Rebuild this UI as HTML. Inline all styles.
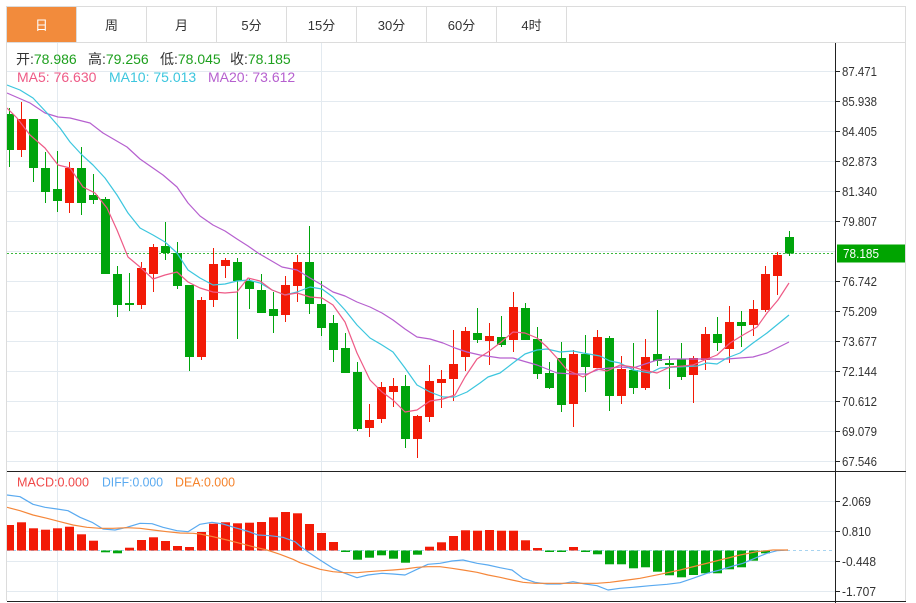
<!DOCTYPE html>
<html><head><meta charset="utf-8"><style>
html,body{margin:0;padding:0;background:#fff;}
svg{display:block;font-family:"Liberation Sans","Noto Sans CJK SC",sans-serif;}
</style></head><body>
<svg width="916" height="603" viewBox="0 0 916 603" xmlns="http://www.w3.org/2000/svg">
<defs>
<clipPath id="cm"><rect x="7" y="43" width="828" height="428"/></clipPath>
<clipPath id="cd"><rect x="7" y="472" width="828" height="129"/></clipPath>
</defs>
<rect x="0" y="0" width="916" height="603" fill="#fff"/>
<!-- tab bar -->
<rect x="7" y="7" width="69.5" height="35.5" fill="#f28b3c"/>
<g stroke="#dcdcdc" stroke-width="1">
<line x1="6" y1="6.5" x2="906" y2="6.5"/>
<line x1="6" y1="42.5" x2="906" y2="42.5"/>
<line x1="76.5" y1="6" x2="76.5" y2="42"/>
<line x1="146.5" y1="6" x2="146.5" y2="42"/>
<line x1="216.5" y1="6" x2="216.5" y2="42"/>
<line x1="286.5" y1="6" x2="286.5" y2="42"/>
<line x1="356.5" y1="6" x2="356.5" y2="42"/>
<line x1="426.5" y1="6" x2="426.5" y2="42"/>
<line x1="496.5" y1="6" x2="496.5" y2="42"/>
<line x1="566.5" y1="6" x2="566.5" y2="42"/>
<line x1="6.5" y1="6" x2="6.5" y2="601"/>
<line x1="905.5" y1="6" x2="905.5" y2="601"/>
</g>
<g font-size="13" text-anchor="middle" fill="#333">
<text x="41.5" y="30" fill="#fff">日</text>
<text x="111.5" y="30">周</text>
<text x="181.5" y="30">月</text>
<text x="251.5" y="30">5分</text>
<text x="321.5" y="30">15分</text>
<text x="391.5" y="30">30分</text>
<text x="461.5" y="30">60分</text>
<text x="531.5" y="30">4时</text>
</g>
<!-- grid main -->
<g stroke="#e3eaf0" stroke-width="1">
<line x1="7" y1="71.5" x2="835" y2="71.5"/>
<line x1="7" y1="101.5" x2="835" y2="101.5"/>
<line x1="7" y1="131.5" x2="835" y2="131.5"/>
<line x1="7" y1="161.5" x2="835" y2="161.5"/>
<line x1="7" y1="191.5" x2="835" y2="191.5"/>
<line x1="7" y1="221.5" x2="835" y2="221.5"/>
<line x1="7" y1="251.5" x2="835" y2="251.5"/>
<line x1="7" y1="281.5" x2="835" y2="281.5"/>
<line x1="7" y1="311.5" x2="835" y2="311.5"/>
<line x1="7" y1="341.5" x2="835" y2="341.5"/>
<line x1="7" y1="371.5" x2="835" y2="371.5"/>
<line x1="7" y1="401.5" x2="835" y2="401.5"/>
<line x1="7" y1="431.5" x2="835" y2="431.5"/>
<line x1="7" y1="461.5" x2="835" y2="461.5"/>
<line x1="57.5" y1="43" x2="57.5" y2="471"/>
<line x1="321.5" y1="43" x2="321.5" y2="471"/>
<line x1="7" y1="501.5" x2="835" y2="501.5"/>
<line x1="7" y1="531.5" x2="835" y2="531.5"/>
<line x1="7" y1="561.5" x2="835" y2="561.5"/>
<line x1="7" y1="591.5" x2="835" y2="591.5"/>
<line x1="57.5" y1="472" x2="57.5" y2="601"/>
<line x1="321.5" y1="472" x2="321.5" y2="601"/>
</g>
<!-- header texts -->
<g font-size="14">
<text x="16" y="64" fill="#333">开:<tspan fill="#1ea01e">78.986</tspan></text>
<text x="88" y="64" fill="#333">高:<tspan fill="#1ea01e">79.256</tspan></text>
<text x="160" y="64" fill="#333">低:<tspan fill="#1ea01e">78.045</tspan></text>
<text x="230" y="64" fill="#333">收:<tspan fill="#1ea01e">78.185</tspan></text>
<text x="17" y="82" fill="#ee5a86">MA5: 76.630</text>
<text x="109" y="82" fill="#3cc6de">MA10: 75.013</text>
<text x="208" y="82" fill="#b660cf">MA20: 73.612</text>
</g>
<!-- current price dotted -->
<line x1="7" y1="253.5" x2="835" y2="253.5" stroke="#3cb83c" stroke-width="1" stroke-dasharray="2,2"/>
<!-- candles -->
<g clip-path="url(#cm)">
<g fill="#00a40c" stroke="#00a40c">
<line x1="9.5" y1="108" x2="9.5" y2="167"/><rect x="5" y="114" width="9" height="36" stroke="none"/>
<line x1="33.5" y1="119" x2="33.5" y2="182"/><rect x="29" y="119" width="9" height="49" stroke="none"/>
<line x1="45.5" y1="152" x2="45.5" y2="203"/><rect x="41" y="168" width="9" height="24" stroke="none"/>
<line x1="57.5" y1="151" x2="57.5" y2="212"/><rect x="53" y="189" width="9" height="12" stroke="none"/>
<line x1="81.5" y1="147" x2="81.5" y2="215"/><rect x="77" y="168" width="9" height="35" stroke="none"/>
<line x1="93.5" y1="174" x2="93.5" y2="204"/><rect x="89" y="195" width="9" height="5" stroke="none"/>
<line x1="105.5" y1="197" x2="105.5" y2="274"/><rect x="101" y="199" width="9" height="75" stroke="none"/>
<line x1="117.5" y1="266" x2="117.5" y2="317"/><rect x="113" y="274" width="9" height="31" stroke="none"/>
<line x1="129.5" y1="273" x2="129.5" y2="311"/><rect x="125" y="303" width="9" height="2" stroke="none"/>
<line x1="165.5" y1="222" x2="165.5" y2="260"/><rect x="161" y="246" width="9" height="7" stroke="none"/>
<line x1="177.5" y1="242" x2="177.5" y2="289"/><rect x="173" y="253" width="9" height="33" stroke="none"/>
<line x1="189.5" y1="285" x2="189.5" y2="371"/><rect x="185" y="285" width="9" height="72" stroke="none"/>
<line x1="237.5" y1="258" x2="237.5" y2="339"/><rect x="233" y="262" width="9" height="19" stroke="none"/>
<line x1="249.5" y1="278" x2="249.5" y2="309"/><rect x="245" y="281" width="9" height="8" stroke="none"/>
<line x1="261.5" y1="274" x2="261.5" y2="313"/><rect x="257" y="290" width="9" height="23" stroke="none"/>
<line x1="273.5" y1="292" x2="273.5" y2="333"/><rect x="269" y="309" width="9" height="7" stroke="none"/>
<line x1="309.5" y1="226" x2="309.5" y2="314"/><rect x="305" y="262" width="9" height="42" stroke="none"/>
<line x1="321.5" y1="281" x2="321.5" y2="336"/><rect x="317" y="304" width="9" height="24" stroke="none"/>
<line x1="333.5" y1="315" x2="333.5" y2="362"/><rect x="329" y="323" width="9" height="27" stroke="none"/>
<line x1="345.5" y1="333" x2="345.5" y2="373"/><rect x="341" y="348" width="9" height="25" stroke="none"/>
<line x1="357.5" y1="362" x2="357.5" y2="431"/><rect x="353" y="372" width="9" height="57" stroke="none"/>
<line x1="405.5" y1="375" x2="405.5" y2="448"/><rect x="401" y="386" width="9" height="53" stroke="none"/>
<line x1="477.5" y1="308" x2="477.5" y2="343"/><rect x="473" y="333" width="9" height="7" stroke="none"/>
<line x1="501.5" y1="316" x2="501.5" y2="347"/><rect x="497" y="337" width="9" height="8" stroke="none"/>
<line x1="525.5" y1="303" x2="525.5" y2="340"/><rect x="521" y="308" width="9" height="32" stroke="none"/>
<line x1="537.5" y1="327" x2="537.5" y2="379"/><rect x="533" y="339" width="9" height="35" stroke="none"/>
<line x1="549.5" y1="362" x2="549.5" y2="389"/><rect x="545" y="373" width="9" height="15" stroke="none"/>
<line x1="561.5" y1="342" x2="561.5" y2="412"/><rect x="557" y="358" width="9" height="47" stroke="none"/>
<line x1="585.5" y1="335" x2="585.5" y2="392"/><rect x="581" y="354" width="9" height="13" stroke="none"/>
<line x1="609.5" y1="336" x2="609.5" y2="411"/><rect x="605" y="338" width="9" height="58" stroke="none"/>
<line x1="633.5" y1="343" x2="633.5" y2="394"/><rect x="629" y="370" width="9" height="18" stroke="none"/>
<line x1="657.5" y1="310" x2="657.5" y2="366"/><rect x="653" y="354" width="9" height="7" stroke="none"/>
<line x1="669.5" y1="356" x2="669.5" y2="389"/><rect x="665" y="363" width="9" height="2" stroke="none"/>
<line x1="681.5" y1="343" x2="681.5" y2="380"/><rect x="677" y="359" width="9" height="18" stroke="none"/>
<line x1="717.5" y1="317" x2="717.5" y2="351"/><rect x="713" y="334" width="9" height="9" stroke="none"/>
<line x1="741.5" y1="311" x2="741.5" y2="347"/><rect x="737" y="322" width="9" height="4" stroke="none"/>
<line x1="789.5" y1="231" x2="789.5" y2="256"/><rect x="785" y="237" width="9" height="16.5" stroke="none"/>
</g>
<g fill="#f21a06" stroke="#f21a06">
<line x1="21.5" y1="102" x2="21.5" y2="157"/><rect x="17" y="119" width="9" height="31" stroke="none"/>
<line x1="69.5" y1="162" x2="69.5" y2="213"/><rect x="65" y="168" width="9" height="35" stroke="none"/>
<line x1="141.5" y1="262" x2="141.5" y2="309"/><rect x="137" y="268" width="9" height="37" stroke="none"/>
<line x1="153.5" y1="244" x2="153.5" y2="292"/><rect x="149" y="247" width="9" height="27" stroke="none"/>
<line x1="201.5" y1="297" x2="201.5" y2="360"/><rect x="197" y="300" width="9" height="57" stroke="none"/>
<line x1="213.5" y1="248" x2="213.5" y2="307"/><rect x="209" y="264" width="9" height="36" stroke="none"/>
<line x1="225.5" y1="258" x2="225.5" y2="278"/><rect x="221" y="260" width="9" height="6" stroke="none"/>
<line x1="285.5" y1="276" x2="285.5" y2="322"/><rect x="281" y="285" width="9" height="30" stroke="none"/>
<line x1="297.5" y1="255" x2="297.5" y2="302"/><rect x="293" y="262" width="9" height="24" stroke="none"/>
<line x1="369.5" y1="404" x2="369.5" y2="437"/><rect x="365" y="420" width="9" height="8" stroke="none"/>
<line x1="381.5" y1="382" x2="381.5" y2="423"/><rect x="377" y="387" width="9" height="32" stroke="none"/>
<line x1="393.5" y1="378" x2="393.5" y2="407"/><rect x="389" y="386" width="9" height="6" stroke="none"/>
<line x1="417.5" y1="415" x2="417.5" y2="458"/><rect x="413" y="416" width="9" height="23" stroke="none"/>
<line x1="429.5" y1="365" x2="429.5" y2="422"/><rect x="425" y="381" width="9" height="36" stroke="none"/>
<line x1="441.5" y1="370" x2="441.5" y2="408"/><rect x="437" y="379" width="9" height="4" stroke="none"/>
<line x1="453.5" y1="330" x2="453.5" y2="401"/><rect x="449" y="364" width="9" height="15" stroke="none"/>
<line x1="465.5" y1="327" x2="465.5" y2="371"/><rect x="461" y="331" width="9" height="26" stroke="none"/>
<line x1="489.5" y1="323" x2="489.5" y2="365"/><rect x="485" y="336" width="9" height="5" stroke="none"/>
<line x1="513.5" y1="292" x2="513.5" y2="352"/><rect x="509" y="307" width="9" height="33" stroke="none"/>
<line x1="573.5" y1="350" x2="573.5" y2="427"/><rect x="569" y="354" width="9" height="50" stroke="none"/>
<line x1="597.5" y1="330" x2="597.5" y2="368"/><rect x="593" y="337" width="9" height="31" stroke="none"/>
<line x1="621.5" y1="356" x2="621.5" y2="404"/><rect x="617" y="369" width="9" height="27" stroke="none"/>
<line x1="645.5" y1="339" x2="645.5" y2="390"/><rect x="641" y="357" width="9" height="31" stroke="none"/>
<line x1="693.5" y1="356" x2="693.5" y2="403"/><rect x="689" y="358" width="9" height="17" stroke="none"/>
<line x1="705.5" y1="327" x2="705.5" y2="370"/><rect x="701" y="334" width="9" height="26" stroke="none"/>
<line x1="729.5" y1="306" x2="729.5" y2="363"/><rect x="725" y="322" width="9" height="27" stroke="none"/>
<line x1="753.5" y1="300" x2="753.5" y2="336"/><rect x="749" y="309" width="9" height="16" stroke="none"/>
<line x1="765.5" y1="266" x2="765.5" y2="312"/><rect x="761" y="274" width="9" height="36" stroke="none"/>
<line x1="777.5" y1="252" x2="777.5" y2="295"/><rect x="773" y="255" width="9" height="21" stroke="none"/>
</g>
<!-- MA lines -->
<g fill="none" stroke-width="1.2" stroke-linejoin="round">
<polyline stroke="#b660cf" points="7,93 30,103 45,113 58,117 70,118 90,123 103,133 127,147 140,159 163,175 177,187 188,203 200,216 213,225 225,231 237,239 248,246 258,253 270,260 282,267 297,270 310,278 322,285 333,292 345,296 357,302 370,307 382,313 393,320 405,329 417,337 430,339 443,343 455,348 467,352 480,355 500,358 513,358 523,361 537,365 547,369 557,373 573,374 587,374 600,369 610,368 620,367 633,368 657,360 673,359 700,359 727,359 740,358 753,357 767,353 777,348 789,342"/>
<polyline stroke="#3cc6de" points="7,85 20,90 33,98 47,113 60,128 70,142 82,155 93,165 105,178 117,195 128,213 140,228 153,235 165,242 177,253 188,270 200,278 213,285 225,284 237,281 248,280 260,283 272,290 285,295 297,292 310,287 322,289 333,297 345,310 357,325 370,338 382,345 393,352 405,368 417,385 430,392 443,397 455,397 467,392 480,383 488,377 500,373 513,363 525,354 537,350 547,349 560,352 573,351 583,353 600,356 610,361 620,363 633,370 650,373 660,368 677,367 697,366 707,363 717,364 727,358 740,353 753,343 767,333 778,324 789,315"/>
<polyline stroke="#ee5a86" points="7,108 17,118 30,135 45,148 58,165 70,168 83,187 95,193 107,208 117,230 128,257 140,267 153,279 165,275 177,272 188,282 200,288 213,292 225,293 237,292 248,278 260,281 272,290 285,295 297,293 310,297 322,298 333,305 345,322 357,353 370,380 382,392 393,400 405,412 417,410 430,401 443,399 455,395 465,377 477,359 488,352 500,343 513,332 525,333 537,338 547,347 557,358 567,370 583,377 597,369 607,371 620,365 633,367 643,370 657,373 670,367 683,366 693,365 707,359 717,355 730,343 743,335 757,327 767,313 778,300 789,283"/>
</g>
</g>
<!-- MACD -->
<line x1="7" y1="550.5" x2="835" y2="550.5" stroke="#a8d4f0" stroke-width="1" stroke-dasharray="3,3"/>
<g clip-path="url(#cd)">
<g fill="#f21a06">
<rect x="5" y="525" width="9" height="25.5"/>
<rect x="17" y="522.3" width="9" height="28.2"/>
<rect x="29" y="528.3" width="9" height="22.2"/>
<rect x="41" y="529.7" width="9" height="20.8"/>
<rect x="53" y="528.3" width="9" height="22.2"/>
<rect x="65" y="526.7" width="9" height="23.8"/>
<rect x="77" y="534.3" width="9" height="16.2"/>
<rect x="89" y="540.7" width="9" height="9.8"/>
<rect x="125" y="547.7" width="9" height="2.8"/>
<rect x="137" y="540" width="9" height="10.5"/>
<rect x="149" y="537.3" width="9" height="13.2"/>
<rect x="161" y="541" width="9" height="9.5"/>
<rect x="173" y="546" width="9" height="4.5"/>
<rect x="185" y="547" width="9" height="3.5"/>
<rect x="197" y="532" width="9" height="18.5"/>
<rect x="209" y="523.7" width="9" height="26.8"/>
<rect x="221" y="522.3" width="9" height="28.2"/>
<rect x="233" y="523.3" width="9" height="27.2"/>
<rect x="245" y="522.7" width="9" height="27.8"/>
<rect x="257" y="522" width="9" height="28.5"/>
<rect x="269" y="517.3" width="9" height="33.2"/>
<rect x="281" y="512" width="9" height="38.5"/>
<rect x="293" y="513.3" width="9" height="37.2"/>
<rect x="305" y="524" width="9" height="26.5"/>
<rect x="317" y="533" width="9" height="17.5"/>
<rect x="329" y="542" width="9" height="8.5"/>
<rect x="425" y="546.7" width="9" height="3.8"/>
<rect x="437" y="542.3" width="9" height="8.2"/>
<rect x="449" y="536" width="9" height="14.5"/>
<rect x="461" y="530.3" width="9" height="20.2"/>
<rect x="473" y="530.7" width="9" height="19.8"/>
<rect x="485" y="530" width="9" height="20.5"/>
<rect x="497" y="530.7" width="9" height="19.8"/>
<rect x="509" y="530.7" width="9" height="19.8"/>
<rect x="521" y="540.3" width="9" height="10.2"/>
<rect x="533" y="548" width="9" height="2.5"/>
<rect x="569" y="547" width="9" height="3.5"/>
</g>
<g fill="#00a40c">
<rect x="101" y="550.5" width="9" height="1.8"/>
<rect x="113" y="550.5" width="9" height="2.8"/>
<rect x="341" y="550.5" width="9" height="1.5"/>
<rect x="353" y="550.5" width="9" height="9.2"/>
<rect x="365" y="550.5" width="9" height="7.2"/>
<rect x="377" y="550.5" width="9" height="4.8"/>
<rect x="389" y="550.5" width="9" height="8.2"/>
<rect x="401" y="550.5" width="9" height="12.2"/>
<rect x="413" y="550.5" width="9" height="4.2"/>
<rect x="545" y="550.5" width="9" height="1.5"/>
<rect x="557" y="550.5" width="9" height="1.5"/>
<rect x="581" y="550.5" width="9" height="1.5"/>
<rect x="593" y="550.5" width="9" height="3.8"/>
<rect x="605" y="550.5" width="9" height="13.8"/>
<rect x="617" y="550.5" width="9" height="13.8"/>
<rect x="629" y="550.5" width="9" height="17.8"/>
<rect x="641" y="550.5" width="9" height="16.8"/>
<rect x="653" y="550.5" width="9" height="21.2"/>
<rect x="665" y="550.5" width="9" height="24.8"/>
<rect x="677" y="550.5" width="9" height="26.8"/>
<rect x="689" y="550.5" width="9" height="24.5"/>
<rect x="701" y="550.5" width="9" height="22.8"/>
<rect x="713" y="550.5" width="9" height="22.8"/>
<rect x="725" y="550.5" width="9" height="18.8"/>
<rect x="737" y="550.5" width="9" height="16.8"/>
<rect x="749" y="550.5" width="9" height="10.2"/>
<rect x="761" y="550.5" width="9" height="2.8"/>
</g>
<g fill="none" stroke-width="1.2" stroke-linejoin="round">
<polyline stroke="#5aaaf0" points="7,495 20,496.7 33,504.3 45,507.3 57,509 68,510.7 80,517.3 92,522.3 103,529 115,530 127,527.3 140,523.3 152,523.7 163,527.3 177,530.7 188,531.7 200,524.3 212,522.3 223,524 235,527.7 247,531 258,535 270,535.7 283,537.3 295,541.7 300,546 310,553.3 320,560 333,568.3 345,573.3 357,577.7 368,575 382,573.3 393,574 405,575 417,569.3 428,564.3 440,563.3 452,561 463,560 477,563.3 488,565 500,567.7 512,570 523,578.3 535,582.3 547,584 560,584 573,581.7 585,584 597,585.7 608,590 620,588.3 633,587.3 650,585.7 667,584.3 680,582.7 693,578.3 707,573.3 720,570 733,566 743,563.3 757,557.3 767,553.3 777,550.7 788,550"/>
<polyline stroke="#f5873a" points="7,507.3 20,510.7 33,515 47,518.3 60,521.7 73,525 87,527.3 100,528.3 113,528.3 127,527.7 140,528.3 153,530 167,531.7 180,533 193,533.3 200,534 213,536.7 227,540 240,543.3 253,546.7 267,550 280,554.3 293,559.3 300,562.7 310,566 320,569.3 333,571.7 345,572.7 357,572.7 368,571.7 382,570.7 393,570 405,569 417,567.3 428,566.7 440,566.7 452,568.3 463,570 477,572.3 488,575 500,577.3 512,580 523,582.3 535,583.3 547,583.3 560,583.3 573,583.3 585,583.3 597,583.3 610,582.3 620,581 640,578.3 660,574.3 680,570 700,565 720,560 740,555 757,551.7 773,550 788,550"/>
</g>
</g>
<g font-size="13">
<text x="17" y="486.5" fill="#f04848" textLength="72" lengthAdjust="spacingAndGlyphs">MACD:0.000</text>
<text x="102" y="486.5" fill="#5aaaf0" textLength="61" lengthAdjust="spacingAndGlyphs">DIFF:0.000</text>
<text x="175" y="486.5" fill="#f5822a" textLength="60" lengthAdjust="spacingAndGlyphs">DEA:0.000</text>
</g>
<!-- axes frame -->
<g stroke="#222" stroke-width="1">
<line x1="7" y1="471.5" x2="906" y2="471.5"/>
<line x1="7" y1="601.5" x2="906" y2="601.5"/>
<line x1="835.5" y1="43" x2="835.5" y2="603"/>
<line x1="835" y1="71.5" x2="840" y2="71.5"/>
<line x1="835" y1="101.5" x2="840" y2="101.5"/>
<line x1="835" y1="131.5" x2="840" y2="131.5"/>
<line x1="835" y1="161.5" x2="840" y2="161.5"/>
<line x1="835" y1="191.5" x2="840" y2="191.5"/>
<line x1="835" y1="221.5" x2="840" y2="221.5"/>
<line x1="835" y1="281.5" x2="840" y2="281.5"/>
<line x1="835" y1="311.5" x2="840" y2="311.5"/>
<line x1="835" y1="341.5" x2="840" y2="341.5"/>
<line x1="835" y1="371.5" x2="840" y2="371.5"/>
<line x1="835" y1="401.5" x2="840" y2="401.5"/>
<line x1="835" y1="431.5" x2="840" y2="431.5"/>
<line x1="835" y1="461.5" x2="840" y2="461.5"/>
<line x1="835" y1="501.5" x2="840" y2="501.5"/>
<line x1="835" y1="531.5" x2="840" y2="531.5"/>
<line x1="835" y1="561.5" x2="840" y2="561.5"/>
<line x1="835" y1="591.5" x2="840" y2="591.5"/>
</g>
<g font-size="13" fill="#333" lengthAdjust="spacingAndGlyphs">
<text x="842" y="76" textLength="35" lengthAdjust="spacingAndGlyphs">87.471</text>
<text x="842" y="106" textLength="35" lengthAdjust="spacingAndGlyphs">85.938</text>
<text x="842" y="136" textLength="35" lengthAdjust="spacingAndGlyphs">84.405</text>
<text x="842" y="166" textLength="35" lengthAdjust="spacingAndGlyphs">82.873</text>
<text x="842" y="196" textLength="35" lengthAdjust="spacingAndGlyphs">81.340</text>
<text x="842" y="226" textLength="35" lengthAdjust="spacingAndGlyphs">79.807</text>
<text x="842" y="286" textLength="35" lengthAdjust="spacingAndGlyphs">76.742</text>
<text x="842" y="316" textLength="35" lengthAdjust="spacingAndGlyphs">75.209</text>
<text x="842" y="346" textLength="35" lengthAdjust="spacingAndGlyphs">73.677</text>
<text x="842" y="376" textLength="35" lengthAdjust="spacingAndGlyphs">72.144</text>
<text x="842" y="406" textLength="35" lengthAdjust="spacingAndGlyphs">70.612</text>
<text x="842" y="436" textLength="35" lengthAdjust="spacingAndGlyphs">69.079</text>
<text x="842" y="466" textLength="35" lengthAdjust="spacingAndGlyphs">67.546</text>
<text x="842" y="506" textLength="29" lengthAdjust="spacingAndGlyphs">2.069</text>
<text x="842" y="536" textLength="29" lengthAdjust="spacingAndGlyphs">0.810</text>
<text x="842" y="566" textLength="34" lengthAdjust="spacingAndGlyphs">-0.448</text>
<text x="842" y="596" textLength="34" lengthAdjust="spacingAndGlyphs">-1.707</text>
</g>
<rect x="837" y="244.5" width="68" height="18" fill="#00a400"/>
<text x="843" y="258" font-size="13" fill="#fff" textLength="36" lengthAdjust="spacingAndGlyphs">78.185</text>
</svg>
</body></html>
